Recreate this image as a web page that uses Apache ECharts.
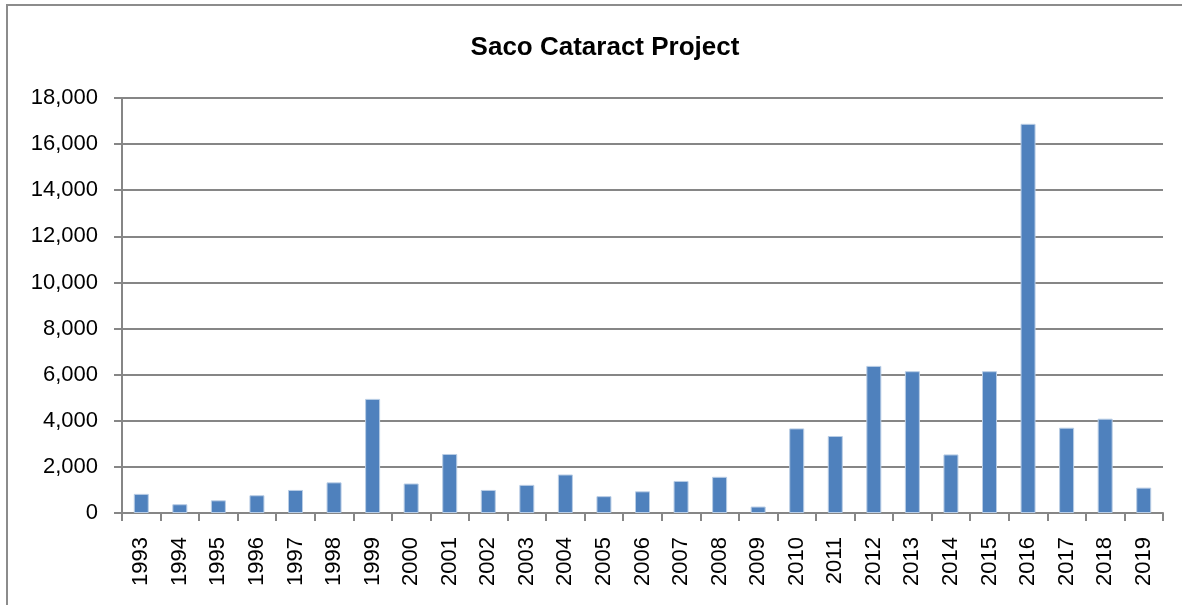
<!DOCTYPE html>
<html lang="en">
<head>
    <meta charset="UTF-8">
    <title>Saco Cataract Project</title>
    <style>
        html, body {
            margin: 0;
            padding: 0;
            width: 100%;
            height: 100%;
            background: #fff;
        }
        #chart {
            width: 1182px;
            height: 605px;
        }
    </style>
</head>
<body>
<div id="chart"></div>
<script src="https://cdn.jsdelivr.net/npm/echarts@6/dist/echarts.min.js"></script>
<script type="text/javascript">
    var years = ['1993', '1994', '1995', '1996', '1997', '1998', '1999', '2000', '2001',
        '2002', '2003', '2004', '2005', '2006', '2007', '2008', '2009', '2010', '2011',
        '2012', '2013', '2014', '2015', '2016', '2017', '2018', '2019'];
    var counts = [830, 380, 550, 770, 1000, 1330, 4950, 1280, 2560,
        1000, 1220, 1670, 730, 940, 1390, 1570, 280, 3670, 3340,
        6380, 6150, 2540, 6150, 16880, 3700, 4090, 1100];
    var yTicks = [0, 2000, 4000, 6000, 8000, 10000, 12000, 14000, 16000, 18000];

    var axisGray = '#868686';
    var font = "'Liberation Sans', Arial, sans-serif";

    var myChart = echarts.init(document.getElementById('chart'));

    var option = {
        backgroundColor: '#fff',
        animation: false,
        graphic: [{
            type: 'rect',
            shape: { x: 7, y: 5, width: 1200, height: 640 },
            style: { fill: 'none', stroke: '#8c8c8c', lineWidth: 2 },
            silent: true
        }],
        title: {
            text: 'Saco Cataract Project',
            left: 600,
            top: 30,
            textAlign: 'center',
            textStyle: {
                fontFamily: font,
                fontSize: 26,
                fontWeight: 'bold',
                color: '#000'
            }
        },
        grid: {
            left: 122,
            right: 19,
            top: 98,
            bottom: 92,
            containLabel: false
        },
        xAxis: {
            type: 'category',
            data: years,
            axisLine: { lineStyle: { color: axisGray, width: 2 } },
            axisTick: {
                show: true,
                alignWithLabel: false,
                length: 8,
                lineStyle: { color: axisGray, width: 2 }
            },
            axisLabel: {
                rotate: 90,
                interval: 0,
                margin: 24,
                fontFamily: font,
                fontSize: 22,
                color: '#000'
            }
        },
        yAxis: {
            type: 'value',
            min: yTicks[0],
            max: yTicks[yTicks.length - 1],
            interval: yTicks[1] - yTicks[0],
            axisLine: { show: true, lineStyle: { color: axisGray, width: 2 } },
            axisTick: {
                show: true,
                inside: false,
                length: 8,
                lineStyle: { color: axisGray, width: 2 }
            },
            splitLine: { show: true, lineStyle: { color: axisGray, width: 2 } },
            axisLabel: {
                margin: 24,
                fontFamily: font,
                fontSize: 22,
                color: '#000',
                formatter: function (v) {
                    return v.toLocaleString('en-US');
                }
            }
        },
        series: [{
            name: 'Saco Cataract Project',
            type: 'bar',
            data: counts,
            barWidth: 15,
            itemStyle: {
                color: '#4F81BD',
                borderColor: '#B9CDE5',
                borderWidth: 1
            }
        }]
    };

    myChart.setOption(option);
</script>
</body>
</html>
